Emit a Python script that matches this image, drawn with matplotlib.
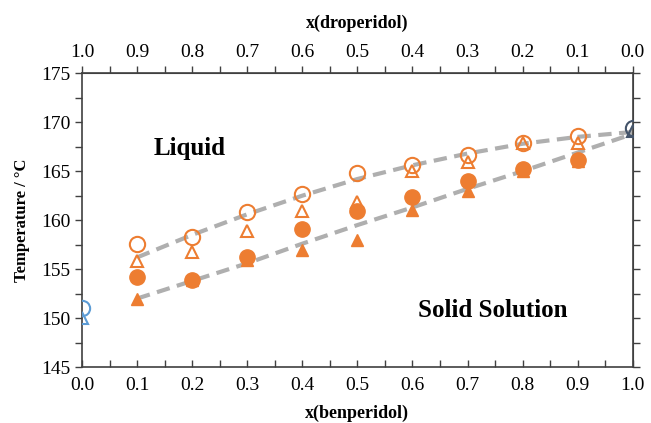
import numpy as np
import matplotlib.pyplot as plt
from matplotlib.ticker import MultipleLocator

plt.rcParams['font.family'] = ['Liberation Serif', 'DejaVu Serif']

# composition x(benperidol)
x = [0.1, 0.2, 0.3, 0.4, 0.5, 0.6, 0.7, 0.8, 0.9]
liq_circ = [157.6, 158.3, 160.8, 162.7, 164.8, 165.6, 166.6, 167.9, 168.6]
liq_tri = [155.8, 156.8, 158.9, 160.9, 161.9, 165.0, 165.9, 167.9, 167.9]
sol_circ = [154.2, 153.9, 156.2, 159.1, 160.9, 162.4, 164.0, 165.2, 166.1]
sol_tri = [152.0, 153.9, 155.9, 157.0, 158.0, 161.0, 163.0, 165.0, 166.0]

# pure components
benp_circ, benp_tri = 151.0, 150.0
drop_circ, drop_tri = 169.4, 169.1

# dashed guide curves
x_curve = [0.1, 0.2, 0.3, 0.4, 0.5, 0.6, 0.7, 0.8, 0.9, 1.0]
upper_curve = [156.2, 158.5, 160.6, 162.5, 164.2, 165.6, 166.8, 167.8, 168.5, 169.0]
lower_curve = [152.0, 153.8, 155.6, 157.6, 159.5, 161.3, 163.2, 165.0, 166.9, 168.8]

laranja = '#ED7D31'
cinza = '#AFAFAF'
azul = '#5B9BD5'
marinho = '#44546A'
eixo = '#404040'

fig = plt.figure(figsize=(6.51, 4.23), dpi=100)
ax = fig.add_axes([0.126, 0.132, 0.846, 0.695])

ax.plot(x_curve, upper_curve, '--', color=cinza, lw=3, dashes=(3.2, 1.8), zorder=1)
ax.plot(x_curve, lower_curve, '--', color=cinza, lw=3, dashes=(3.2, 1.8), zorder=1)

ax.plot(x, sol_tri, '^', ms=8.5, color=laranja, mec=laranja, zorder=3)
ax.plot(x, sol_circ, 'o', ms=11, color=laranja, mec=laranja, zorder=4)
ax.plot(x, liq_tri, '^', ms=8.5, mfc='none', mec=laranja, mew=1.5, zorder=3)
ax.plot(x, liq_circ, 'o', ms=11, mfc='none', mec=laranja, mew=1.5, zorder=4)

ax.plot(0, benp_circ, 'o', ms=11, mfc='none', mec=azul, mew=1.5, zorder=4)
ax.plot(0, benp_tri, '^', ms=8.5, mfc='none', mec=azul, mew=1.5, zorder=4)
ax.plot(1, drop_circ, 'o', ms=11, mfc='none', mec=marinho, mew=1.5, zorder=4)
ax.plot(1, drop_tri, '^', ms=8.5, mfc='none', mec=marinho, mew=1.5, zorder=4)

ax.set_xlim(0, 1)
ax.set_ylim(145, 175)
ax.xaxis.set_major_locator(MultipleLocator(0.1))
ax.xaxis.set_minor_locator(MultipleLocator(0.05))
ax.yaxis.set_major_locator(MultipleLocator(5))
ax.yaxis.set_minor_locator(MultipleLocator(2.5))
ax.xaxis.set_major_formatter(plt.FuncFormatter(lambda v, p: '%.1f' % v))

ax.tick_params(axis='x', which='both', direction='in', length=5, width=1,
               labelsize=14, pad=7, color=eixo)
ax.tick_params(axis='y', which='both', direction='out', length=5, width=1,
               labelsize=14, right=False, color=eixo)
for s in ax.spines.values():
    s.set_color(eixo)
    s.set_linewidth(1.2)

sec = ax.secondary_xaxis('top', functions=(lambda v: 1 - v, lambda v: 1 - v))
sec.xaxis.set_major_locator(MultipleLocator(0.1))
sec.xaxis.set_minor_locator(MultipleLocator(0.05))
sec.xaxis.set_major_formatter(plt.FuncFormatter(lambda v, p: '%.1f' % abs(v)))
sec.tick_params(which='both', direction='out', length=5, width=1, labelsize=14, color=eixo)
sec.spines['top'].set_color(eixo)
sec.set_xlabel('x(droperidol)', fontweight='bold', fontsize=13, labelpad=12)

# right axis: unlabeled outward ticks
axr = ax.secondary_yaxis('right')
axr.yaxis.set_major_locator(MultipleLocator(2.5))
axr.tick_params(direction='out', length=5, width=1, labelright=False, color=eixo)
axr.spines['right'].set_color(eixo)

ax.set_xlabel('x(benperidol)', fontweight='bold', fontsize=13, labelpad=8)
ax.set_ylabel('Temperature / \u00b0C', fontweight='bold', fontsize=12, labelpad=8)

ax.text(0.196, 167.3, 'Liquid', fontsize=18, fontweight='bold', ha='center', va='center')
ax.text(0.746, 150.8, 'Solid Solution', fontsize=18, fontweight='bold', ha='center', va='center')

plt.savefig('out.png', dpi=100)
